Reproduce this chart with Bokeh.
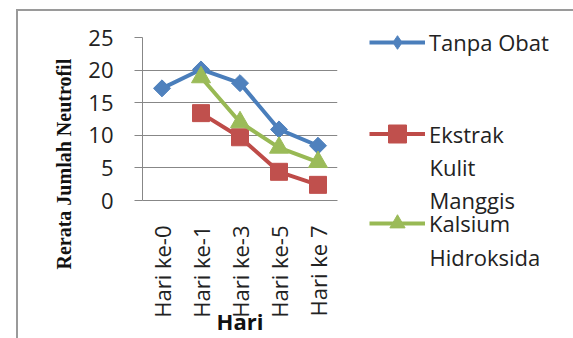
import math
from bokeh.plotting import figure
from bokeh.layouts import row
from bokeh.models import Range1d, Legend, LegendItem, Title, Label
from bokeh.embed import file_html
from bokeh.resources import INLINE

categories = ["Hari ke-0", "Hari ke-1", "Hari ke-3", "Hari ke-5", "Hari ke 7"]
tanpa_obat = [17.2, 20.1, 18.0, 10.9, 8.4]
ekstrak_days = ["Hari ke-1", "Hari ke-3", "Hari ke-5", "Hari ke 7"]
ekstrak = [13.4, 9.7, 4.4, 2.4]
kalsium_days = ["Hari ke-1", "Hari ke-3", "Hari ke-5", "Hari ke 7"]
kalsium = [18.9, 12.0, 8.1, 5.9]
y_ticks = [0, 5, 10, 15, 20, 25]

SANS = "Open Sans"
GRID = "#878787"
TXT = "#222222"
BLUE_L, BLUE_M = "#4A7EBB", "#4F81BD"
RED_L, RED_M = "#BE4B48", "#C0504D"
GREEN_L, GREEN_M = "#98B954", "#9BBB59"

# ---------------- main chart ----------------
p = figure(x_range=categories, y_range=Range1d(0, 25),
           width=324, height=327,
           min_border_left=124, min_border_right=5,
           min_border_top=26, min_border_bottom=137,
           output_backend="svg", toolbar_location=None)
p.frame_align = False
p.outline_line_color = None

p.yaxis.ticker = y_ticks
p.yaxis.axis_line_color = GRID
p.yaxis.major_tick_line_color = GRID
p.yaxis.major_tick_out = 8
p.yaxis.major_tick_in = 0
p.yaxis.minor_tick_line_color = None
p.yaxis.major_label_standoff = 21
p.yaxis.major_label_text_font = SANS
p.yaxis.major_label_text_font_size = "22px"
p.yaxis.major_label_text_color = TXT

p.add_layout(Title(text="Rerata Jumlah Neutrofil", align="left", offset=-69,
                   text_font="Liberation Serif", text_font_style="bold",
                   text_font_size="20px", text_color="#111111", standoff=22), "left")

p.xaxis.axis_line_color = GRID
p.xaxis.major_tick_line_color = None
p.xaxis.major_tick_out = 0
p.xaxis.major_label_orientation = math.pi / 2
p.xaxis.major_label_standoff = 25
p.xaxis.major_label_text_font = SANS
p.xaxis.major_label_text_font_size = "22px"
p.xaxis.major_label_text_color = TXT
p.xaxis.axis_label = "Hari"
p.xaxis.axis_label_text_font = SANS
p.xaxis.axis_label_text_font_style = "bold"
p.xaxis.axis_label_text_font_size = "22px"
p.xaxis.axis_label_text_color = "#111111"
p.xaxis.axis_label_standoff = -15

p.xgrid.grid_line_color = None
p.ygrid.grid_line_color = GRID
p.ygrid.grid_line_width = 1

p.line(categories, tanpa_obat, line_color=BLUE_L, line_width=4)
p.scatter(categories, tanpa_obat, marker="square", angle=math.pi / 4, size=12,
          fill_color=BLUE_M, line_color=BLUE_M)
p.line(ekstrak_days, ekstrak, line_color=RED_L, line_width=4)
p.scatter(ekstrak_days, ekstrak, marker="square", size=17,
          fill_color=RED_M, line_color=RED_M)
p.line(kalsium_days, kalsium, line_color=GREEN_L, line_width=4)
p.scatter(kalsium_days, kalsium, marker="triangle", size=19,
          fill_color=GREEN_M, line_color=GREEN_M)

# ---------------- legend panel ----------------
lf = figure(width=231, height=327, x_range=Range1d(0, 1), y_range=Range1d(0, 1),
            min_border=0, x_axis_type=None, y_axis_type=None,
            output_backend="svg", toolbar_location=None)
lf.frame_align = False
lf.outline_line_color = None
lf.grid.visible = False

series = [("Tanpa Obat", tanpa_obat, BLUE_L, BLUE_M, "diamond", 34, 279, []),
          ("Ekstrak", ekstrak, RED_L, RED_M, "square", 45, 182, ["Kulit", "Manggis"]),
          ("Kalsium", kalsium, GREEN_L, GREEN_M, "triangle", 38, 96, ["Hidroksida"])]
for name, vals, lc, mc, mk, gh, ybot, extra in series:
    # legend-only renderers: their single value lies outside this panel's 0..1 range
    lr = lf.line([0], [vals[0]], line_color=lc, line_width=4)
    mr = lf.scatter([0], [vals[0]], marker=mk, fill_color=mc, line_color=mc)
    h = max(gh, 34)
    lg = Legend(items=[LegendItem(label=name, renderers=[lr, mr])],
                location=(27, ybot), glyph_width=56, glyph_height=gh, label_height=34,
                label_standoff=4, padding=0, margin=0, spacing=0,
                border_line_color=None, background_fill_alpha=0,
                label_text_font=SANS, label_text_font_size="22px",
                label_text_color=TXT)
    lf.add_layout(lg, "center")
    for i, t in enumerate(extra):
        lf.add_layout(Label(x=87, y=ybot + h / 2 - 33 * (i + 1), x_units="screen",
                            y_units="screen", text=t, text_font=SANS,
                            text_font_size="22px", text_color=TXT,
                            text_baseline="middle"))

layout = row(p, lf, spacing=0)
layout.margin = (9, 0, 0, 16)
layout.styles = {"border-top": "2px solid #9a9a9a", "border-left": "2px solid #9a9a9a"}

open("out.html", "w").write(file_html(layout, INLINE))
